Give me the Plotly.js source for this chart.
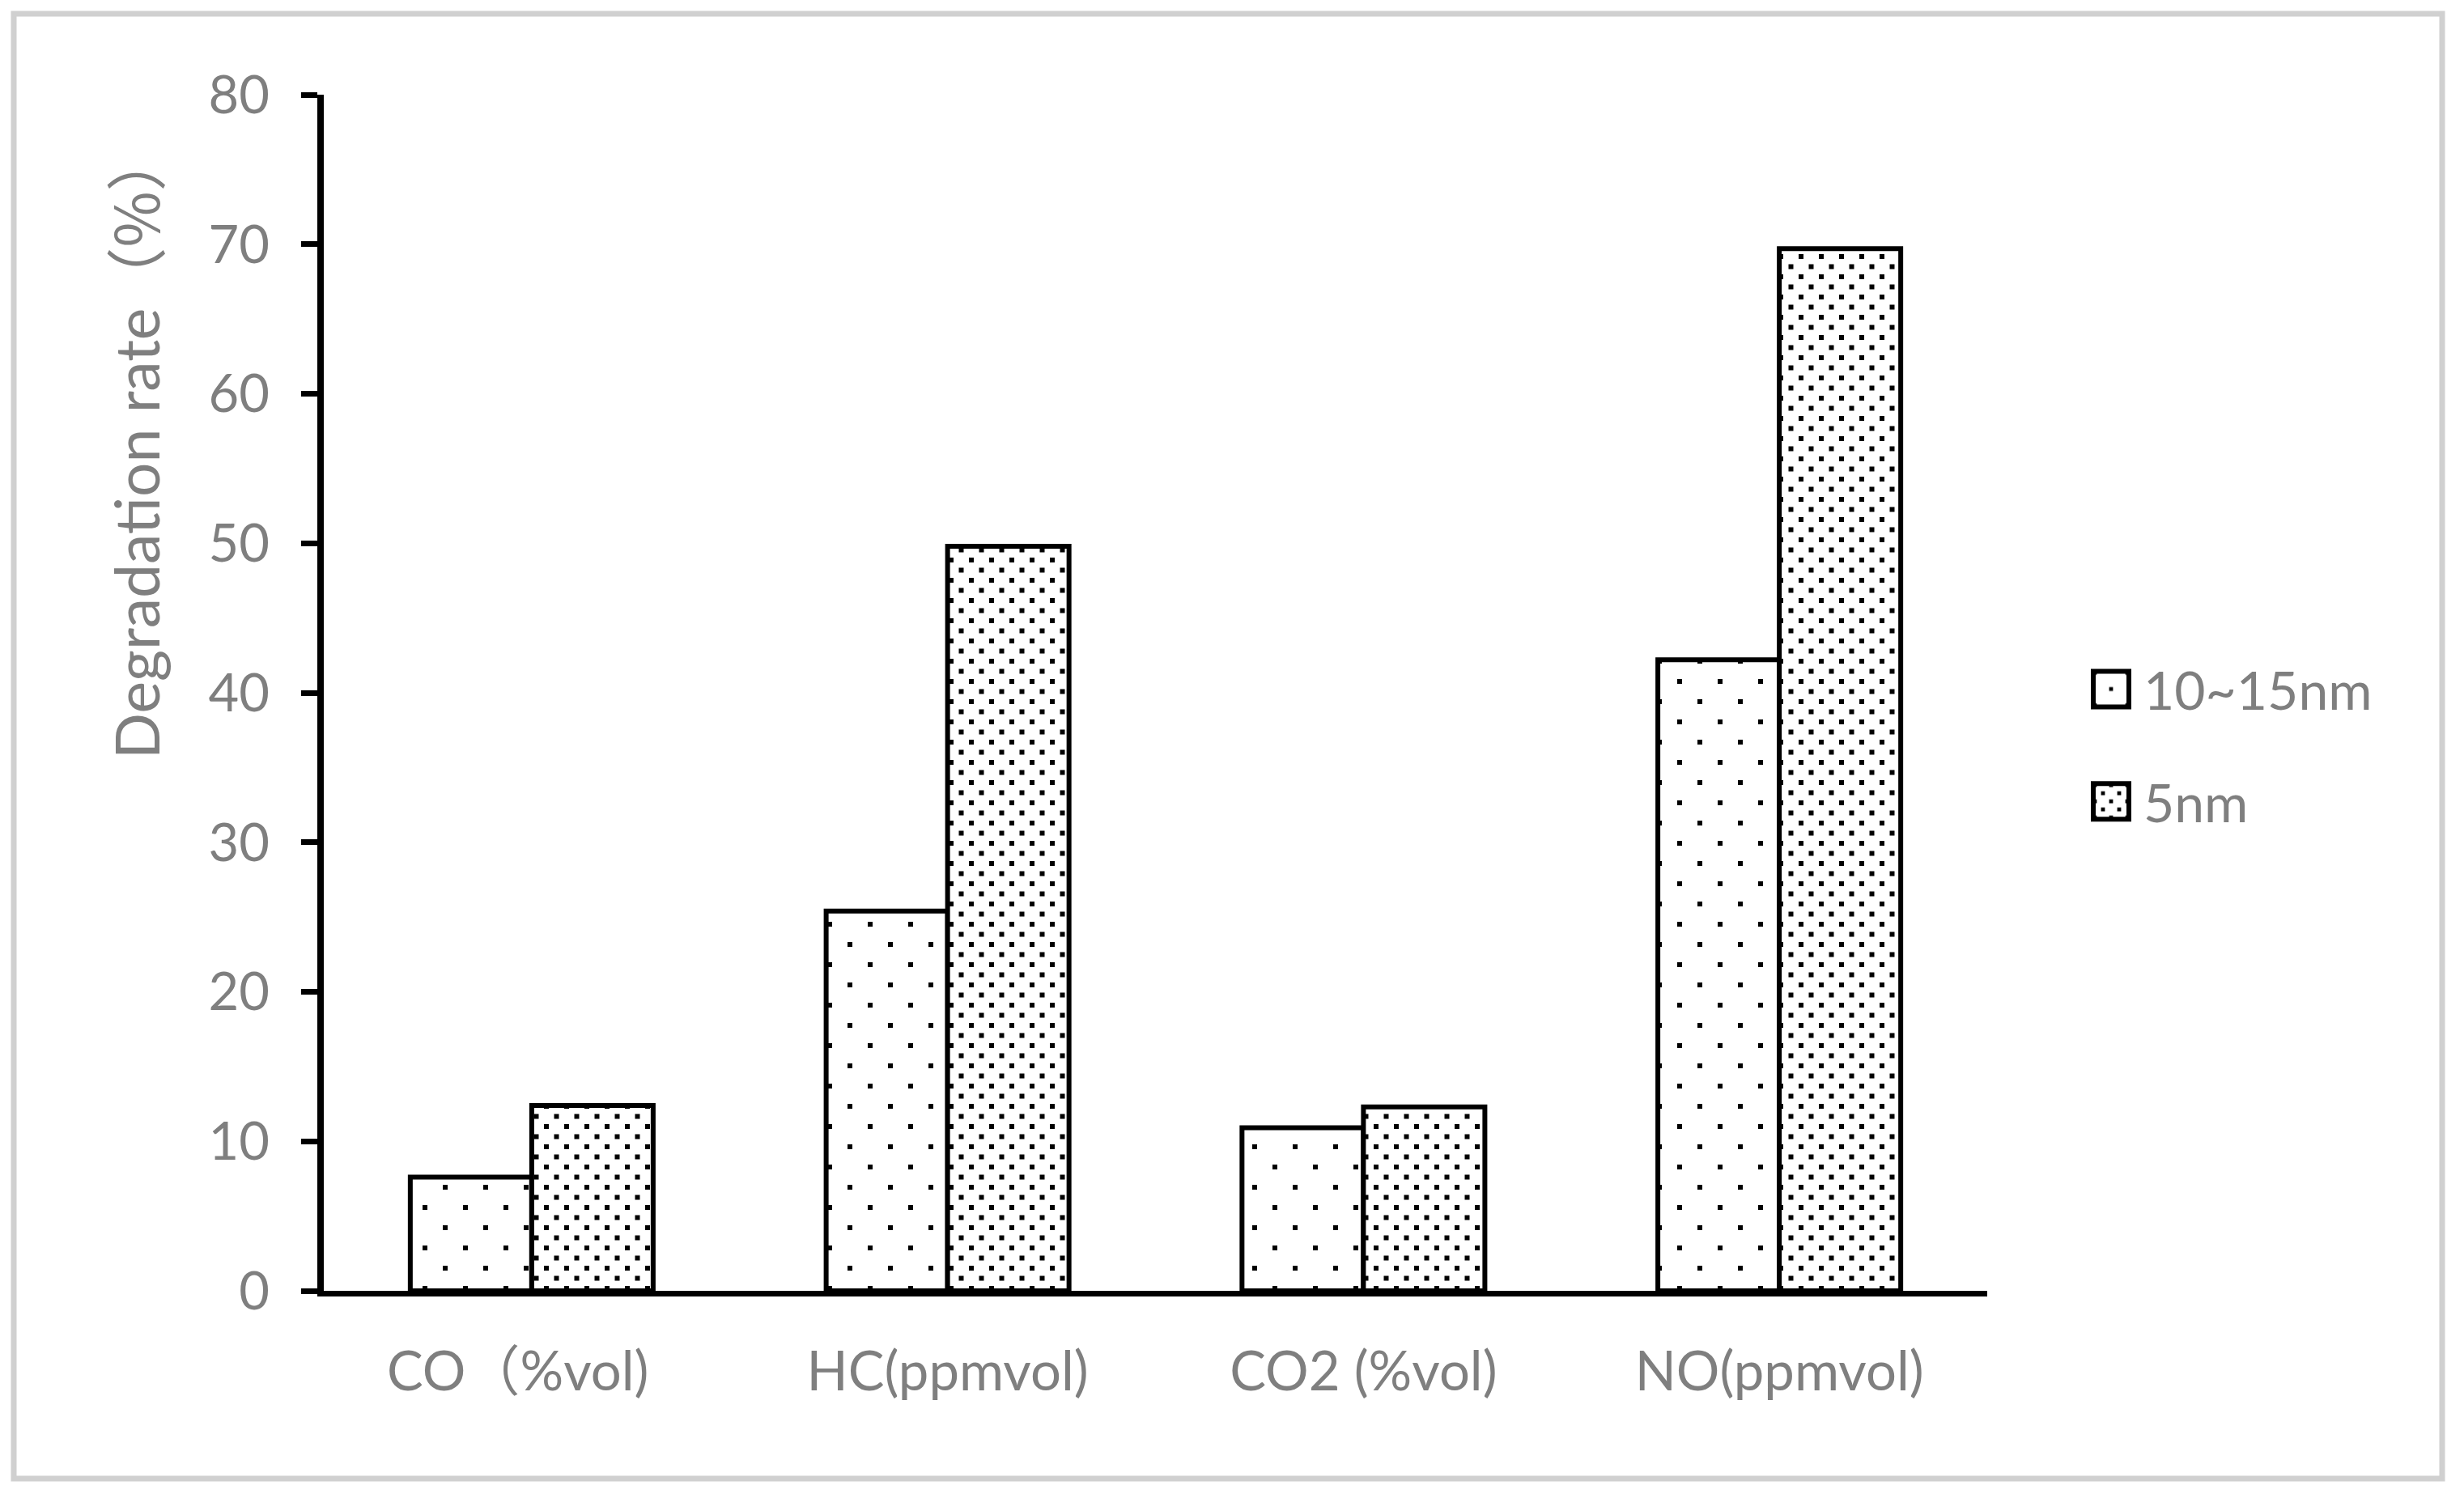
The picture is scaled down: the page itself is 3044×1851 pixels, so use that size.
<!DOCTYPE html>
<html>
<head>
<meta charset="utf-8">
<script src="https://cdn.plot.ly/plotly-3.0.1.min.js"></script>
<style>
html,body{margin:0;padding:0;background:#fff;}
#chart{width:3044px;height:1851px;}
</style>
</head>
<body>
<div id="chart"></div>
<script>
// ---- data ----
const CJK = "<span style='font-family:\"Noto Sans CJK SC\"'>";
const categories = ["CO" + CJK + "（</span>%vol)\u00a0\u00a0", "HC(ppmvol)", "CO2 (%vol)", "NO(ppmvol)"];
const seriesNames = ["10~15nm", "5nm"];
const values1015nm = [7.6, 25.4, 10.9, 42.2];
const values5nm = [12.4, 49.8, 12.3, 69.7];
const yTickVals = [0, 10, 20, 30, 40, 50, 60, 70, 80];
const yTitle = "Degradation rate" + CJK + "（%）</span>";

// ---- style ----
const FONT = "Lato, 'Noto Sans CJK SC', sans-serif";
const GREY = "#7f7f7f";
const patternTile = [50, 25];   // dot spacing for each series

const traces = [
  {
    type: "bar", name: seriesNames[0], x: categories, y: values1015nm, uid: "s1",
    legendgroup: "g1",
    marker: {color: "white", line: {color: "black", width: 6},
             pattern: {shape: ".", size: patternTile[0], solidity: 0.03, fgcolor: "black", bgcolor: "white", fillmode: "replace"}},
    hoverinfo: "skip"
  },
  {
    type: "bar", name: seriesNames[1], x: categories, y: values5nm, uid: "s2",
    legendgroup: "g2",
    marker: {color: "white", line: {color: "black", width: 6},
             pattern: {shape: ".", size: patternTile[1], solidity: 0.12, fgcolor: "black", bgcolor: "white", fillmode: "replace"}},
    hoverinfo: "skip"
  }
];

const L = 400, R = 589, T = 117, B = 256;
const PW = 3044 - L - R, PH = 1851 - T - B;
const px2x = p => (p - L) / PW;
const px2y = p => (1851 - B - p) / PH;

const layout = {
  width: 3044, height: 1851,
  margin: {l: L, r: R, t: T, b: B, pad: 0},
  paper_bgcolor: "white", plot_bgcolor: "white",
  barmode: "group", bargap: 0.416, bargroupgap: 0,
  font: {family: FONT, color: GREY, size: 65},
  showlegend: true,
  legend: {
    x: px2x(2568), xanchor: "left", y: px2y(802), yanchor: "top",
    font: {family: FONT, size: 66, color: GREY},
    itemwidth: 70, tracegroupgap: 50, traceorder: "grouped",
    bgcolor: "rgba(0,0,0,0)", borderwidth: 0
  },
  xaxis: {
    type: "category", showline: true, linecolor: "black", linewidth: 7,
    ticks: "", showgrid: false, zeroline: false,
    tickfont: {family: FONT, size: 67, color: GREY},
    ticklabelstandoff: 36
  },
  yaxis: {
    range: [0, 80], tickvals: yTickVals, ticktext: yTickVals.map(String),
    showline: true, linecolor: "black", linewidth: 8,
    ticks: "outside", ticklen: 20, tickwidth: 7, tickcolor: "black",
    showgrid: false, zeroline: false,
    tickfont: {family: FONT, size: 65, color: GREY},
    ticklabelstandoff: 26
  },
  annotations: [{
    text: yTitle, xref: "paper", yref: "paper",
    x: px2x(164), y: px2y(550), xanchor: "center", yanchor: "middle",
    textangle: -90, showarrow: false,
    font: {family: FONT, size: 75, color: GREY}
  }],
  shapes: [{
    type: "rect", xref: "paper", yref: "paper",
    x0: px2x(17), x1: px2x(3017), y0: px2y(1827), y1: px2y(17),
    line: {color: "#d0d0d0", width: 7}, fillcolor: "rgba(0,0,0,0)", layer: "below"
  }]
};

const SVGNS = "http://www.w3.org/2000/svg";
function rebuildPattern(pat, tile) {
  if (!pat || pat.dataset.done) return;
  pat.dataset.done = "1";
  pat.setAttribute("width", tile);
  pat.setAttribute("height", tile);
  pat.setAttribute("patternUnits", "userSpaceOnUse");
  while (pat.firstChild) pat.removeChild(pat.firstChild);
  const bg = document.createElementNS(SVGNS, "rect");
  bg.setAttribute("width", tile); bg.setAttribute("height", tile); bg.setAttribute("fill", "white");
  pat.appendChild(bg);
  const d = 6, h = tile / 2;
  const pts = [[h, h], [0, 0], [tile, 0], [0, tile], [tile, tile]];
  pts.forEach(([cx, cy]) => {
    const r = document.createElementNS(SVGNS, "rect");
    r.setAttribute("x", cx - d / 2); r.setAttribute("y", cy - d / 2);
    r.setAttribute("width", d); r.setAttribute("height", d); r.setAttribute("fill", "black");
    pat.appendChild(r);
  });
}
function patFromEl(el) {
  const f = el.style.fill || el.getAttribute("fill") || "";
  const m = f.match(/#([^"')]+)/);
  return m ? document.getElementById(m[1]) : null;
}

const gd = document.getElementById("chart");
Plotly.newPlot(gd, traces, layout, {staticPlot: true}).then(() => {
  const barTraces = gd.querySelectorAll(".barlayer .trace");
  barTraces.forEach((tr, i) => {
    tr.querySelectorAll("path").forEach(p => rebuildPattern(patFromEl(p), patternTile[i]));
  });
  const legTraces = gd.querySelectorAll(".legend .traces");
  legTraces.forEach((tr, i) => {
    tr.querySelectorAll(".legendpoints path").forEach(p => {
      p.setAttribute("d", "M22,22H-22V-22H22Z");
      p.style.strokeWidth = "6px";
      p.style.stroke = "black";
      rebuildPattern(patFromEl(p), patternTile[i]);
    });
  });
});
</script>
</body>
</html>
